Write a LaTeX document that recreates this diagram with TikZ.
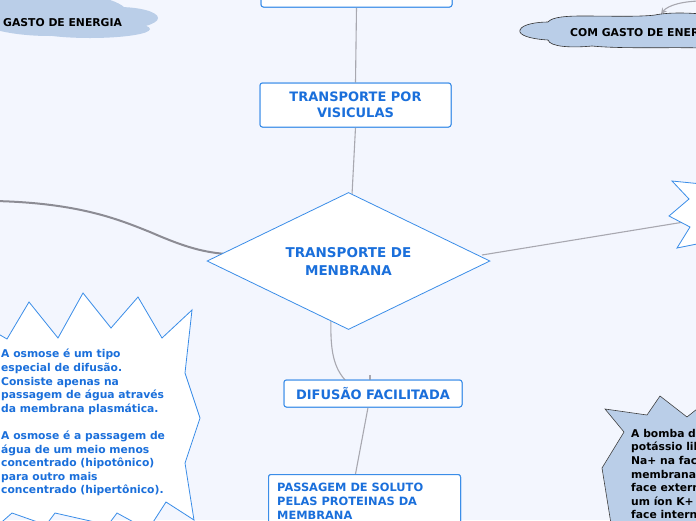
\documentclass[tikz,border=0pt]{standalone}
\usepackage{fontspec}
\setmainfont{DejaVu Sans}
\usetikzlibrary{arrows.meta, positioning, calc, shapes.geometric}

\definecolor{bgblue}{HTML}{F3F6FE}
\definecolor{mapblue}{HTML}{1A6FDB}
\definecolor{edgeblue}{HTML}{3A8DE8}
\definecolor{cloudblue}{HTML}{BACEE8}
\definecolor{linkgray}{HTML}{A8A8B0}
\definecolor{darkgray}{HTML}{8C8C94}

\tikzset{
    topicbox/.style={draw=edgeblue, fill=white, rounded corners=2.5pt, line width=1pt,
        text=mapblue, font=\bfseries\fontsize{13}{15.5}\selectfont, align=center, inner sep=0pt},
    link/.style={draw=linkgray, line width=1.1pt},
    notetext/.style={font=\bfseries\fontsize{10.75}{13.6}\selectfont, align=left, inner sep=0pt},
    cloudtext/.style={font=\bfseries\fontsize{10.8}{13}\selectfont, inner sep=0pt, anchor=base west}
}

\begin{document}
\begin{tikzpicture}[x=1pt, y=-1pt]
    \fill[bgblue] (0,0) rectangle (696,520);
    \useasboundingbox (0,0) rectangle (696,520);
    \clip (0,0) rectangle (696,520);

    % clouds
    \fill[cloudblue] (50,14) ellipse [x radius=78, y radius=22];
    \fill[cloudblue] (118,18) ellipse [x radius=40, y radius=11];
    \fill[cloudblue] (90,29) ellipse [x radius=60, y radius=9];
    \node[cloudtext] (nogasto) at (3,26) {GASTO DE ENERGIA};

    \coordinate (arrstart) at (702,1);
    \coordinate (arrend) at (661,14);
    \draw[linkgray, line width=1.1pt, -{Stealth[length=6pt, width=6pt]}]
        (arrstart) .. controls (684,1) and (668,5) .. (arrend);
    \filldraw[fill=cloudblue, draw=black!80, line width=0.6pt]
        (520,30) .. controls (522,24) and (538,22) .. (548,22)
        .. controls (552,17) and (566,16) .. (582,16)
        .. controls (610,16) and (640,17) .. (655,15)
        .. controls (670,12) and (690,13) .. (702,14) -- (702,48)
        .. controls (670,47) and (622,49) .. (592,46)
        .. controls (572,48) and (550,47) .. (548,40)
        .. controls (530,39) and (518,35) .. (520,30) -- cycle;
    \node[cloudtext] (comgasto) at (570,36) {COM GASTO DE ENERGIA};

    % connectors
    \node[topicbox, minimum width=191pt, minimum height=36pt] (topbox) at (356.5,-11) {};
    \node[topicbox, minimum width=191pt, minimum height=44pt] (vesic) at (355.5,105) {TRANSPORTE POR\\VISICULAS};
    \node[topicbox, minimum width=178pt, minimum height=27pt] (facil) at (373,393.5) {DIFUSÃO FACILITADA};
    \node[topicbox, minimum width=192pt, minimum height=70pt, anchor=north west] (solut) at (268,474) {};

    \coordinate (leftend) at (-5,201);
    \coordinate (rightend) at (684,222);
    \draw[link] (topbox.south) -- (vesic.north);
    \draw[link] (vesic.south) -- (352,195);
    \draw[darkgray, line width=2pt] (leftend) .. controls (80,203) and (120,220) .. (150,232)
        .. controls (180,245) and (200,252) .. (226,254);
    \draw[link] (482,255) -- (rightend);
    \draw[link] (331,318) .. controls (330,352) and (334,368) .. (346,381);
    \draw[link] ([xshift=-3pt]facil.north) -- ++(0,-5);
    \draw[link] ([xshift=-5pt]facil.south) -- ([xshift=-9pt]solut.north);

    % redraw boxes on top of links
    \node[topicbox, minimum width=191pt, minimum height=36pt] at (topbox) {};
    \node[topicbox, minimum width=191pt, minimum height=44pt] at (vesic) {TRANSPORTE POR\\VISICULAS};
    \node[topicbox, minimum width=178pt, minimum height=27pt] at (facil) {DIFUSÃO FACILITADA};
    \node[topicbox, minimum width=192pt, minimum height=70pt, anchor=north west] at (268,474) {};
    \node[notetext, text=mapblue, font=\bfseries\fontsize{11.4}{14}\selectfont, anchor=north west] (soluttext) at (277,483)
        {PASSAGEM DE SOLUTO\\PELAS PROTEINAS DA\\MEMBRANA};

    \node[diamond, aspect=2.07, draw=edgeblue, fill=white, line width=0.8pt, minimum width=283pt,
        minimum height=137pt, inner sep=0pt, text=mapblue, align=center,
        font=\bfseries\fontsize{13.5}{18}\selectfont] (membr) at (348.5,261) {TRANSPORTE DE\\MENBRANA};

    % right star
    \filldraw[fill=white, draw=edgeblue, line width=0.8pt]
        (672,181) -- (689,199) -- (669,216) -- (690,227) -- (677,248) -- (702,243) -- (702,184) -- cycle;

    % osmose star
    \filldraw[fill=white, draw=edgeblue, line width=0.8pt]
        (-5,332) -- (7,339) -- (29,302) -- (58,338) -- (83,293) -- (111,328) -- (138,297) -- (162,338)
        -- (192,310) -- (185,373) -- (200,418) -- (185,463) -- (194,520) -- (166,502) -- (148,530)
        -- (117,513) -- (108,525) -- (55,513) -- (46,525) -- (12,513) -- (-5,528) -- cycle;
    \node[notetext, text=mapblue, anchor=north west] (osmose) at (1,349)
        {A osmose é um tipo\\especial de difusão.\\Consiste apenas na\\passagem de água através\\da membrana plasmática.\\[13.6pt]A osmose é a passagem de\\água de um meio menos\\concentrado (hipotônico)\\para outro mais\\concentrado (hipertônico).};

    % bomba star
    \filldraw[fill=cloudblue, draw=black!75, line width=0.6pt]
        (605,409) -- (647,415) -- (660,396) -- (687,417) -- (702,405) -- (702,530) -- (612,530)
        -- (602,468) -- (624,432) -- cycle;
    \node[notetext, text=black, anchor=north west] (bomba) at (631,429)
        {A bomba de\\potássio libera\\Na+ na face\\membrana\\face externa\\um íon K+\\face interna};
\end{tikzpicture}
\end{document}
